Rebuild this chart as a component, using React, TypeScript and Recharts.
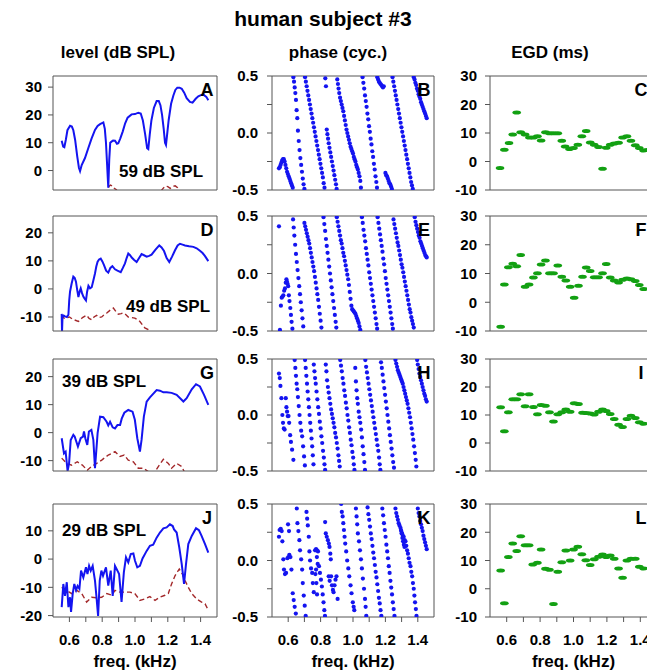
import React from "react";
import { ComposedChart, Line, Scatter, XAxis, YAxis } from "recharts";

const FONT = "'Liberation Sans', Arial, sans-serif";
const BLUE = "#1414f0";
const RED = "#a3282a";
const GREEN = "#12a012";
const AXIS = "#555";

const FREQ_TICKS = [0.6, 0.7, 0.8, 0.9, 1.0, 1.1, 1.2, 1.3, 1.4];
const FREQ_LABELS = [0.6, 0.8, 1.0, 1.2, 1.4];
const PHASE_TICKS = [-0.5, -0.25, 0, 0.25, 0.5];
const PHASE_LABELS = [-0.5, 0, 0.5];
const EGD_TICKS = [-10, 0, 10, 20, 30];

const LEVEL_TICKS = [[0, 10, 20, 30], [-10, 0, 10, 20], [-10, 0, 10, 20], [-20, -10, 0, 10]];
const LEVEL_DOMAINS = [[-7, 34], [-15, 26], [-13.7, 26.3], [-20.5, 19.5]];
const STIM = ["59 dB SPL", "49 dB SPL", "39 dB SPL", "29 dB SPL"];
const LETTERS = [["A", "B", "C"], ["D", "E", "F"], ["G", "H", "I"], ["J", "K", "L"]];

// level (dB SPL): [kHz, dB]
const LEVEL_A_BLUE = [
  [0.553, 10.7], [0.562, 8.6], [0.569, 8.4], [0.578, 11], [0.588, 14.5], [0.604, 16.1], [0.615, 15.8], [0.624, 14.5],
  [0.635, 11], [0.648, 5], [0.658, 1], [0.665, -0.2], [0.675, 2], [0.695, 4.5], [0.715, 8], [0.735, 11.5], [0.756, 14.6],
  [0.772, 16], [0.787, 16.7], [0.807, 17.3], [0.816, 15], [0.823, 10], [0.83, 2], [0.837, -6.2], [0.843, 4], [0.849, 10],
  [0.857, 10.4], [0.866, 10.8], [0.878, 10.7], [0.89, 9.6], [0.898, 9.8], [0.91, 11.5], [0.925, 14], [0.94, 17], [0.955, 19],
  [0.979, 20.2], [1.0, 20.3], [1.02, 20.8], [1.035, 20.5], [1.048, 18], [1.062, 13], [1.074, 8], [1.081, 7.7], [1.09, 13],
  [1.1, 18], [1.115, 22.5], [1.132, 25], [1.145, 25], [1.155, 23.5], [1.165, 20], [1.175, 15], [1.183, 10], [1.189, 9.2],
  [1.196, 13], [1.205, 18], [1.22, 24], [1.234, 27], [1.246, 29], [1.258, 29.8], [1.272, 29.8], [1.285, 29.4], [1.3, 28],
  [1.315, 26], [1.335, 24.7], [1.351, 24.4], [1.37, 25.8], [1.386, 26.7], [1.405, 27.2], [1.417, 27.3], [1.435, 26.5], [1.447, 25.3],
];
const LEVEL_A_RED = [
  [0.553, -14], [0.6, -15], [0.7, -12], [0.8, -9.5], [0.83, -7.5], [0.84, -5.8], [0.85, -5.2], [0.86, -5.5], [0.87, -6.3],
  [0.885, -6.8], [0.9, -8], [0.95, -10], [1.0, -12], [1.05, -11], [1.1, -10], [1.15, -8], [1.17, -6.5], [1.185, -5.6],
  [1.2, -5.8], [1.215, -6.4], [1.23, -5.7], [1.245, -5.5], [1.26, -6.2], [1.275, -7.5], [1.3, -9.5], [1.35, -11], [1.45, -13],
];
const LEVEL_D_BLUE = [
  [0.553, -8.9], [0.555, -15.5], [0.558, -10], [0.565, -9.5], [0.573, -9.8], [0.585, -10], [0.594, -9.2], [0.599, -4],
  [0.604, -0.9], [0.614, 2], [0.624, 4.4], [0.632, 4], [0.64, 2.6], [0.648, -0.5], [0.655, -2.9], [0.662, -1], [0.669, 0.2],
  [0.677, -1.5], [0.685, -2.7], [0.693, -3.5], [0.701, -4.1], [0.708, -1], [0.716, 1.1], [0.726, 0.2], [0.736, 0.6], [0.746, 3],
  [0.756, 5.5], [0.764, 8], [0.772, 9.7], [0.781, 10.5], [0.791, 10.8], [0.801, 9.8], [0.811, 8.5], [0.824, 6.5], [0.837, 5.8],
  [0.85, 7.5], [0.862, 8.1], [0.878, 7], [0.893, 6.5], [0.913, 6], [0.926, 7.5], [0.939, 9.1], [0.949, 11], [0.959, 12.6],
  [0.97, 12], [0.98, 11.2], [0.995, 10.3], [1.01, 9.6], [1.025, 11], [1.04, 12.4], [1.055, 12], [1.071, 11.5], [1.086, 11.8],
  [1.101, 12.2], [1.125, 14], [1.148, 15.5], [1.162, 14.8], [1.177, 13.5], [1.193, 11], [1.209, 9.6], [1.226, 11.5],
  [1.244, 13.8], [1.26, 15.5], [1.274, 16.1], [1.29, 15.8], [1.305, 15.5], [1.33, 15.2], [1.356, 15], [1.376, 14.5],
  [1.396, 13.6], [1.412, 12.8], [1.427, 11.7], [1.447, 9.9],
];
const LEVEL_D_RED = [
  [0.553, -9.2], [0.568, -10.5], [0.584, -10.4], [0.6, -10], [0.62, -10.8], [0.655, -11.6], [0.68, -10.2], [0.705, -9.4],
  [0.72, -10.5], [0.736, -11], [0.75, -10], [0.766, -9.4], [0.78, -10.2], [0.797, -10], [0.81, -9.3], [0.828, -8.6],
  [0.85, -7.5], [0.868, -6.8], [0.883, -8], [0.898, -9], [0.915, -8.8], [0.93, -8.6], [0.945, -9.2], [0.959, -10],
  [0.98, -10.2], [0.999, -10.4], [1.015, -11], [1.03, -11.6], [1.045, -12.8], [1.06, -13.9], [1.081, -14.5], [1.1, -16],
  [1.2, -17], [1.3, -18], [1.45, -19],
];
const LEVEL_G_BLUE = [
  [0.553, -2], [0.567, -7.4], [0.577, -6.8], [0.589, -13.7], [0.598, -11], [0.608, -2.6], [0.624, -0.8], [0.632, -1.4],
  [0.652, -5], [0.669, -2], [0.683, -1.4], [0.689, 0.4], [0.697, -2], [0.709, -4.4], [0.719, 0.4], [0.734, 1], [0.746, -2.6],
  [0.756, -12.7], [0.772, -0.2], [0.787, 5.7], [0.807, 5.5], [0.827, 3.9], [0.837, 2.6], [0.848, 3.9], [0.864, 1.9],
  [0.878, 1.5], [0.893, 2.7], [0.909, 2.7], [0.919, 5], [0.935, 7.1], [0.959, 8.1], [0.985, 7.5], [0.999, 4.6], [1.014, -2],
  [1.03, -6.8], [1.04, -2.6], [1.054, 5.7], [1.071, 11.1], [1.091, 12.6], [1.132, 15.2], [1.152, 15], [1.173, 14.4],
  [1.193, 14.4], [1.223, 14.2], [1.254, 13.5], [1.295, 11.1], [1.315, 12.3], [1.346, 15.5], [1.372, 17.3], [1.396, 16.5],
  [1.421, 13.5], [1.447, 9.9],
];
const LEVEL_G_RED = [
  [0.553, -9.1], [0.584, -11], [0.614, -11.6], [0.648, -10.4], [0.679, -11.6], [0.709, -13.4], [0.736, -12], [0.766, -11],
  [0.797, -9.8], [0.837, -8], [0.878, -6.8], [0.909, -8.5], [0.934, -8], [0.959, -9.8], [0.99, -10.4], [1.02, -12.7],
  [1.05, -12.7], [1.081, -13.9], [1.11, -15], [1.142, -12.1], [1.173, -9.5], [1.203, -11], [1.223, -12.7], [1.254, -11],
  [1.285, -12.1], [1.305, -14.5], [1.35, -16], [1.45, -17],
];
const LEVEL_J_BLUE = [
  [0.553, -17], [0.563, -8.8], [0.573, -13], [0.584, -8.2], [0.594, -17], [0.604, -13.5], [0.61, -18.7], [0.62, -12.3],
  [0.63, -8.8], [0.641, -11], [0.65, -9.5], [0.661, -10.5], [0.671, -4.1], [0.685, -6.5], [0.701, -2.9], [0.71, -5.3],
  [0.72, -2.4], [0.73, -4.1], [0.742, -2.4], [0.756, -7.6], [0.766, -14], [0.775, -20.1], [0.785, -7.6], [0.795, -4.1],
  [0.805, -5.9], [0.823, -2.9], [0.837, -9.4], [0.852, -4.1], [0.864, -13], [0.878, -2.4], [0.893, -4.1], [0.903, -5.3],
  [0.918, -15.2], [0.932, -4.7], [0.945, 0.6], [0.959, -1.2], [0.974, 1.8], [0.99, 2], [1.0, -0.6], [1.014, -2.9], [1.03, -2.4],
  [1.046, 0.2], [1.071, 2.9], [1.091, 4.7], [1.111, 5.1], [1.132, 7.6], [1.152, 9.4], [1.173, 10.9], [1.193, 11.2],
  [1.213, 12.3], [1.23, 11.7], [1.238, 10.5], [1.254, 9.4], [1.27, 4.1], [1.285, -1.8], [1.299, -8.8], [1.311, -1.8],
  [1.325, 5.3], [1.346, 8.2], [1.372, 10.9], [1.39, 10.2], [1.406, 8.2], [1.427, 5.3], [1.447, 2.3],
];
const LEVEL_J_RED = [
  [0.553, -10], [0.584, -11.1], [0.614, -12.2], [0.645, -11.1], [0.675, -12.2], [0.705, -15.2], [0.736, -13.5],
  [0.766, -13.7], [0.797, -13.5], [0.828, -12.2], [0.858, -12.8], [0.878, -11.1], [0.909, -11.7], [0.939, -11.7],
  [0.969, -11.7], [0.999, -12.2], [1.03, -14.6], [1.06, -14.1], [1.091, -13.3], [1.122, -14.6], [1.152, -13.5],
  [1.183, -12.8], [1.203, -12.2], [1.223, -8.8], [1.244, -5.9], [1.27, -3.5], [1.289, -5.3], [1.305, -7.6], [1.325, -10],
  [1.346, -12.2], [1.376, -14.1], [1.406, -15.2], [1.427, -15.8], [1.447, -18.1],
];

// phase (cycles): [kHz, cyc]
const PHASE_B = [
  [0.543, -0.31], [0.548, -0.3], [0.553, -0.28], [0.558, -0.26], [0.563, -0.24], [0.568, -0.23], [0.573, -0.23], [0.578, -0.25],
  [0.583, -0.28], [0.588, -0.31], [0.593, -0.34], [0.598, -0.36], [0.603, -0.38], [0.608, -0.4], [0.613, -0.42], [0.618, -0.44],
  [0.623, -0.46], [0.628, -0.48],
  [0.632, 0.49], [0.636, 0.45], [0.64, 0.4], [0.644, 0.35], [0.648, 0.29], [0.652, 0.2], [0.656, 0.13], [0.66, 0.02],
  [0.665, -0.07], [0.67, -0.15], [0.675, -0.22], [0.68, -0.28], [0.685, -0.34], [0.69, -0.4], [0.695, -0.45], [0.7, -0.49],
  [0.704, 0.49], [0.709, 0.45], [0.714, 0.41], [0.719, 0.37], [0.724, 0.33], [0.729, 0.29], [0.734, 0.25], [0.739, 0.21],
  [0.744, 0.17], [0.749, 0.13], [0.754, 0.09], [0.759, 0.05], [0.764, 0.01], [0.769, -0.03], [0.774, -0.07], [0.779, -0.11],
  [0.784, -0.15], [0.789, -0.19], [0.794, -0.23], [0.799, -0.27], [0.804, -0.31], [0.809, -0.35], [0.814, -0.39], [0.819, -0.44],
  [0.824, -0.48],
  [0.829, 0.48], [0.833, 0.41], [0.838, 0.03], [0.842, -0.01], [0.846, -0.05], [0.85, -0.09], [0.855, -0.13], [0.86, -0.17],
  [0.865, -0.21], [0.87, -0.25], [0.875, -0.29], [0.88, -0.33], [0.885, -0.37], [0.89, -0.41], [0.895, -0.45], [0.899, -0.49],
  [0.903, 0.47], [0.907, 0.43], [0.911, 0.39], [0.915, 0.35], [0.92, 0.31], [0.925, 0.28], [0.93, 0.25], [0.935, 0.22],
  [0.94, 0.19], [0.945, 0.15], [0.95, 0.11], [0.955, 0.07], [0.96, 0.03], [0.965, 0.0], [0.97, -0.03], [0.975, -0.06],
  [0.98, -0.09], [0.985, -0.12], [0.99, -0.14], [0.995, -0.16], [1.0, -0.18], [1.005, -0.21], [1.01, -0.23], [1.015, -0.25],
  [1.02, -0.28], [1.025, -0.3], [1.03, -0.32], [1.035, -0.35], [1.04, -0.38], [1.045, -0.42], [1.049, -0.48],
  [1.059, 0.49], [1.064, 0.44], [1.069, 0.39], [1.074, 0.33], [1.079, 0.28], [1.084, 0.23], [1.089, 0.17], [1.094, 0.12],
  [1.099, 0.06], [1.104, 0.01], [1.109, -0.05], [1.114, -0.1], [1.119, -0.16], [1.124, -0.21], [1.129, -0.27], [1.134, -0.32],
  [1.139, -0.38], [1.144, -0.43], [1.148, -0.48],
  [1.15, 0.49], [1.155, 0.47], [1.16, 0.45], [1.165, 0.44], [1.17, 0.43], [1.175, 0.42], [1.18, 0.41], [1.185, 0.4],
  [1.19, 0.41], [1.2, -0.35], [1.205, -0.37], [1.21, -0.38], [1.215, -0.4], [1.22, -0.42], [1.225, -0.44], [1.23, -0.45],
  [1.235, -0.47], [1.24, -0.49],
  [1.244, 0.49], [1.249, 0.45], [1.254, 0.41], [1.259, 0.37], [1.264, 0.33], [1.269, 0.29], [1.274, 0.25], [1.279, 0.21],
  [1.284, 0.17], [1.289, 0.13], [1.294, 0.09], [1.299, 0.05], [1.304, 0.01], [1.309, -0.03], [1.314, -0.07], [1.319, -0.11],
  [1.324, -0.15], [1.329, -0.19], [1.334, -0.23], [1.339, -0.27], [1.344, -0.31], [1.349, -0.35], [1.354, -0.39],
  [1.359, -0.43], [1.364, -0.46], [1.369, -0.49],
  [1.375, 0.49], [1.38, 0.47], [1.385, 0.44], [1.39, 0.42], [1.395, 0.39], [1.4, 0.37], [1.405, 0.34], [1.41, 0.32],
  [1.415, 0.3], [1.42, 0.27], [1.425, 0.25], [1.43, 0.23], [1.435, 0.21], [1.44, 0.19], [1.445, 0.17], [1.45, 0.15], [1.455, 0.13],
];
const PHASE_E = [
  [0.543, 0.41], [0.549, -0.49], [0.555, -0.28], [0.56, -0.21], [0.565, -0.2], [0.57, -0.19], [0.575, -0.15], [0.58, -0.13],
  [0.585, -0.08], [0.589, -0.05], [0.592, -0.07], [0.596, -0.09], [0.6, -0.11], [0.604, -0.19], [0.608, -0.24], [0.613, -0.3],
  [0.617, -0.36], [0.621, -0.42], [0.626, -0.48],
  [0.63, 0.47], [0.634, 0.4], [0.638, 0.33], [0.643, 0.25], [0.648, 0.17], [0.653, 0.1], [0.658, 0.03], [0.663, -0.04],
  [0.668, -0.11], [0.673, -0.18], [0.678, -0.25], [0.683, -0.32], [0.688, -0.39], [0.693, -0.46],
  [0.7, 0.44], [0.705, 0.41], [0.71, 0.38], [0.715, 0.35], [0.72, 0.32], [0.725, 0.29], [0.73, 0.26], [0.735, 0.22],
  [0.74, 0.18], [0.745, 0.14], [0.75, 0.1], [0.755, 0.06], [0.76, 0.02], [0.765, -0.03], [0.77, -0.08], [0.775, -0.13],
  [0.78, -0.18], [0.785, -0.23], [0.79, -0.29], [0.795, -0.35], [0.8, -0.41], [0.805, -0.47],
  [0.818, 0.49], [0.823, 0.43], [0.828, 0.37], [0.833, 0.3], [0.838, 0.24], [0.843, 0.18], [0.848, 0.12], [0.853, 0.06],
  [0.858, 0.0], [0.863, -0.06], [0.868, -0.12], [0.873, -0.18], [0.878, -0.24], [0.883, -0.3], [0.888, -0.36], [0.893, -0.42],
  [0.897, -0.47],
  [0.9, 0.49], [0.905, 0.45], [0.91, 0.41], [0.915, 0.37], [0.92, 0.33], [0.925, 0.29], [0.93, 0.26], [0.935, 0.22],
  [0.94, 0.18], [0.945, 0.15], [0.95, 0.11], [0.955, 0.07], [0.96, 0.03], [0.965, -0.01], [0.97, -0.05], [0.975, -0.1],
  [0.98, -0.16], [0.985, -0.22], [0.99, -0.28], [0.995, -0.31], [1.0, -0.32], [1.005, -0.33], [1.01, -0.34], [1.015, -0.35],
  [1.02, -0.37], [1.025, -0.39], [1.03, -0.41], [1.035, -0.43], [1.04, -0.46], [1.045, -0.49],
  [1.055, 0.49], [1.06, 0.44], [1.065, 0.38], [1.07, 0.33], [1.075, 0.28], [1.08, 0.22], [1.085, 0.17], [1.09, 0.12],
  [1.095, 0.07], [1.1, 0.01], [1.105, -0.04], [1.11, -0.09], [1.115, -0.14], [1.12, -0.19], [1.125, -0.24], [1.13, -0.29],
  [1.135, -0.34], [1.14, -0.39], [1.145, -0.44], [1.149, -0.48],
  [1.152, 0.49], [1.157, 0.44], [1.162, 0.39], [1.167, 0.34], [1.172, 0.29], [1.177, 0.24], [1.182, 0.19], [1.187, 0.13],
  [1.192, 0.08], [1.197, 0.02], [1.202, -0.04], [1.207, -0.09], [1.212, -0.14], [1.217, -0.19], [1.222, -0.24], [1.227, -0.29],
  [1.232, -0.34], [1.237, -0.39], [1.242, -0.44], [1.246, -0.48],
  [1.25, 0.47], [1.255, 0.43], [1.26, 0.39], [1.265, 0.35], [1.27, 0.31], [1.275, 0.27], [1.28, 0.24], [1.285, 0.2],
  [1.29, 0.16], [1.295, 0.12], [1.3, 0.08], [1.305, 0.05], [1.31, 0.01], [1.315, -0.03], [1.32, -0.07], [1.325, -0.11],
  [1.33, -0.15], [1.335, -0.19], [1.34, -0.23], [1.345, -0.27], [1.35, -0.31], [1.355, -0.34], [1.36, -0.38], [1.365, -0.41],
  [1.37, -0.44], [1.375, -0.47],
  [1.381, 0.49], [1.386, 0.45], [1.391, 0.42], [1.396, 0.39], [1.401, 0.36], [1.406, 0.33], [1.411, 0.31], [1.416, 0.28],
  [1.421, 0.26], [1.426, 0.24], [1.431, 0.22], [1.436, 0.2], [1.441, 0.18], [1.446, 0.16], [1.451, 0.15], [1.455, 0.14],
];
const PHASE_H = [
  [0.543, 0.37], [0.548, 0.33], [0.552, 0.26], [0.558, 0.15], [0.564, 0.0], [0.568, -0.07], [0.573, -0.12], [0.578, -0.13],
  [0.585, 0.15], [0.589, 0.07], [0.593, 0.03], [0.597, -0.01], [0.602, -0.01], [0.606, -0.07], [0.612, -0.18], [0.617, -0.24],
  [0.624, -0.31], [0.632, -0.4],
  [0.64, 0.49], [0.644, 0.42], [0.648, 0.35], [0.652, 0.28], [0.656, 0.23], [0.66, 0.16], [0.665, 0.08], [0.67, 0.0],
  [0.675, -0.07], [0.68, -0.14], [0.686, -0.19], [0.692, -0.28], [0.698, -0.37], [0.703, -0.45],
  [0.704, 0.49], [0.708, 0.42], [0.712, 0.35], [0.716, 0.28], [0.72, 0.21], [0.724, 0.14], [0.728, 0.07], [0.732, 0.0],
  [0.736, -0.07], [0.74, -0.14], [0.744, -0.21], [0.748, -0.28], [0.752, -0.36], [0.756, -0.44],
  [0.758, 0.45], [0.762, 0.39], [0.766, 0.33], [0.77, 0.28], [0.775, 0.21], [0.78, 0.14], [0.785, 0.07], [0.79, 0.01],
  [0.795, -0.06], [0.8, -0.12], [0.805, -0.19], [0.81, -0.25], [0.815, -0.32], [0.82, -0.38], [0.824, -0.44], [0.828, -0.49],
  [0.832, 0.45], [0.836, 0.39], [0.84, 0.31], [0.845, 0.25], [0.85, 0.2], [0.855, 0.15], [0.86, 0.1], [0.865, 0.05],
  [0.87, 0.01], [0.875, -0.03], [0.88, -0.07], [0.885, -0.11], [0.89, -0.16], [0.895, -0.2], [0.9, -0.25], [0.905, -0.3],
  [0.91, -0.36], [0.914, -0.41], [0.918, -0.46],
  [0.921, 0.49], [0.926, 0.44], [0.931, 0.39], [0.936, 0.33], [0.941, 0.28], [0.946, 0.22], [0.951, 0.17], [0.956, 0.11],
  [0.961, 0.06], [0.966, 0.0], [0.971, -0.05], [0.976, -0.11], [0.981, -0.16], [0.986, -0.22], [0.991, -0.27], [0.996, -0.33],
  [1.001, -0.38], [1.005, -0.44], [1.009, -0.49],
  [1.014, 0.42], [1.018, 0.3], [1.022, 0.22], [1.026, 0.15], [1.03, 0.1], [1.035, 0.03], [1.04, -0.02], [1.045, -0.07],
  [1.05, -0.13], [1.055, -0.2], [1.06, -0.28], [1.065, -0.35], [1.07, -0.42], [1.074, -0.49],
  [1.076, 0.49], [1.081, 0.43], [1.086, 0.38], [1.091, 0.33], [1.096, 0.28], [1.101, 0.23], [1.106, 0.18], [1.111, 0.13],
  [1.116, 0.08], [1.121, 0.03], [1.126, -0.02], [1.131, -0.07], [1.136, -0.12], [1.141, -0.17], [1.146, -0.22], [1.151, -0.27],
  [1.156, -0.32], [1.161, -0.38], [1.165, -0.44], [1.169, -0.49],
  [1.173, 0.47], [1.178, 0.42], [1.183, 0.36], [1.188, 0.3], [1.193, 0.24], [1.198, 0.18], [1.203, 0.12], [1.208, 0.06],
  [1.213, 0.0], [1.218, -0.06], [1.223, -0.12], [1.228, -0.18], [1.233, -0.24], [1.238, -0.3], [1.243, -0.36], [1.248, -0.42],
  [1.253, -0.47],
  [1.262, 0.49], [1.267, 0.46], [1.272, 0.43], [1.277, 0.4], [1.282, 0.38], [1.287, 0.36], [1.292, 0.34], [1.297, 0.32],
  [1.302, 0.3], [1.307, 0.28], [1.312, 0.25], [1.317, 0.22], [1.322, 0.19], [1.327, 0.16], [1.332, 0.13], [1.337, 0.1],
  [1.342, 0.06], [1.347, 0.02], [1.352, -0.02], [1.357, -0.07], [1.362, -0.12], [1.367, -0.17], [1.372, -0.22], [1.377, -0.28],
  [1.382, -0.34], [1.387, -0.4], [1.391, -0.46],
  [1.396, 0.49], [1.4, 0.45], [1.405, 0.41], [1.41, 0.37], [1.415, 0.34], [1.42, 0.31], [1.425, 0.28], [1.43, 0.25],
  [1.435, 0.22], [1.44, 0.19], [1.445, 0.17], [1.45, 0.14], [1.455, 0.12],
];
const PHASE_K = [
  [0.543, 0.21], [0.547, 0.27], [0.554, 0.28], [0.56, 0.26], [0.564, 0.17], [0.57, 0.01], [0.574, -0.08], [0.58, -0.12],
  [0.587, -0.11], [0.595, 0.02], [0.601, 0.03], [0.607, 0.05], [0.614, 0.03], [0.62, -0.08], [0.599, 0.32], [0.605, 0.26],
  [0.628, -0.29], [0.634, -0.35], [0.64, -0.41], [0.647, -0.47],
  [0.653, 0.46], [0.657, 0.33], [0.663, 0.26], [0.669, 0.18], [0.673, 0.09], [0.68, 0.01], [0.686, -0.08], [0.69, -0.2],
  [0.696, -0.31], [0.702, -0.4], [0.708, -0.49],
  [0.713, 0.43], [0.717, 0.37], [0.721, 0.31], [0.727, 0.21], [0.731, 0.08], [0.735, 0.0], [0.741, -0.07], [0.748, -0.11],
  [0.752, -0.2], [0.758, -0.28],
  [0.766, 0.09], [0.772, 0.1], [0.778, 0.09], [0.784, 0.08], [0.777, 0.03], [0.782, -0.03], [0.772, -0.08], [0.768, -0.12],
  [0.774, -0.2], [0.778, -0.3],
  [0.79, -0.05], [0.796, -0.11], [0.802, -0.17], [0.808, -0.23], [0.813, -0.3], [0.818, -0.37], [0.823, -0.44], [0.827, -0.49],
  [0.828, 0.34], [0.832, 0.24], [0.838, 0.21], [0.845, 0.18], [0.851, 0.15], [0.855, 0.12], [0.86, 0.06], [0.863, 0.01],
  [0.85, -0.14], [0.856, -0.18], [0.865, -0.14], [0.87, -0.22], [0.876, -0.26], [0.88, -0.28], [0.886, -0.22], [0.892, -0.17],
  [0.898, -0.14], [0.905, -0.34],
  [0.927, 0.5], [0.931, 0.43], [0.936, 0.39], [0.94, 0.33], [0.944, 0.27], [0.948, 0.21], [0.952, 0.15], [0.958, 0.08],
  [0.964, 0.0], [0.971, -0.07], [0.977, -0.14], [0.985, -0.22], [0.991, -0.29], [0.999, -0.37], [1.004, -0.41], [1.008, -0.44],
  [1.018, 0.46], [1.022, 0.39], [1.026, 0.32], [1.03, 0.24], [1.037, 0.17], [1.043, 0.09], [1.049, 0.01], [1.055, -0.07],
  [1.061, -0.16], [1.068, -0.25], [1.074, -0.34], [1.078, -0.41], [1.082, -0.49],
  [1.09, 0.47], [1.095, 0.41], [1.1, 0.36], [1.105, 0.3], [1.11, 0.24], [1.115, 0.19], [1.12, 0.13], [1.125, 0.07],
  [1.13, 0.02], [1.135, -0.04], [1.14, -0.1], [1.145, -0.15], [1.15, -0.21], [1.155, -0.27], [1.16, -0.33], [1.165, -0.38],
  [1.17, -0.44], [1.175, -0.49],
  [1.181, 0.46], [1.186, 0.4], [1.191, 0.33], [1.196, 0.27], [1.201, 0.21], [1.206, 0.14], [1.211, 0.08], [1.216, 0.02],
  [1.221, -0.05], [1.226, -0.11], [1.231, -0.18], [1.236, -0.24], [1.241, -0.3], [1.246, -0.37], [1.251, -0.43], [1.256, -0.49],
  [1.262, 0.46], [1.267, 0.42], [1.272, 0.39], [1.277, 0.36], [1.282, 0.33], [1.287, 0.31], [1.293, 0.29], [1.298, 0.26],
  [1.303, 0.24], [1.308, 0.22], [1.313, 0.21], [1.319, 0.18], [1.324, 0.17], [1.329, 0.13], [1.334, 0.09], [1.339, 0.06],
  [1.344, 0.02], [1.349, -0.02], [1.355, -0.05], [1.36, -0.1], [1.365, -0.14], [1.37, -0.2], [1.375, -0.25], [1.379, -0.31],
  [1.383, -0.37], [1.388, -0.43], [1.392, -0.49],
  [1.296, 0.27], [1.3, 0.24], [1.305, 0.2], [1.309, 0.17], [1.314, 0.14], [1.318, 0.12],
  [1.4, 0.46], [1.405, 0.42], [1.41, 0.39], [1.415, 0.35], [1.42, 0.32], [1.425, 0.29], [1.43, 0.26], [1.435, 0.22],
  [1.44, 0.19], [1.445, 0.16], [1.45, 0.13], [1.455, 0.1],
];

// EGD (ms): [kHz, ms]
const EGD_C = [
  [0.56, -2.3], [0.586, 4.1], [0.614, 6.5], [0.636, 9.5], [0.66, 17.2], [0.684, 10.3], [0.71, 9.5], [0.736, 8.4], [0.76, 8.4],
  [0.784, 8.9], [0.806, 7.4], [0.832, 10.3], [0.856, 9.9], [0.88, 9.9], [0.906, 9.9], [0.93, 7.3], [0.95, 5.3], [0.976, 4.4],
  [1.0, 4.7], [1.026, 5.9], [1.05, 8.9], [1.076, 10.7], [1.1, 6.7], [1.124, 5.9], [1.15, 5.1], [1.174, -2.5], [1.196, 4.8],
  [1.22, 5.9], [1.244, 6.3], [1.27, 6.6], [1.294, 8.4], [1.32, 8.9], [1.344, 7.3], [1.37, 5.7], [1.394, 4.7], [1.42, 3.9],
  [1.444, 4],
];
const EGD_F = [
  [0.564, -8.5], [0.586, 6.2], [0.61, 12.2], [0.636, 13.4], [0.66, 12.5], [0.684, 16.4], [0.71, 5.4], [0.734, 6.2], [0.76, 8.6],
  [0.784, 10.1], [0.806, 13.1], [0.832, 14.5], [0.856, 10.1], [0.88, 10.1], [0.906, 12.8], [0.93, 8.9], [0.954, 7.6],
  [0.98, 5.4], [1.004, 1.6], [1.03, 5.7], [1.054, 8.9], [1.076, 12.1], [1.1, 10.9], [1.124, 8.7], [1.15, 8.7], [1.174, 10.1],
  [1.196, 13.3], [1.22, 8.6], [1.244, 7.6], [1.27, 6.9], [1.294, 7.8], [1.32, 8.3], [1.344, 8], [1.37, 7.4], [1.394, 6],
  [1.42, 4.6],
];
const EGD_I = [
  [0.564, 12.8], [0.586, 4.2], [0.61, 11], [0.636, 15.6], [0.66, 15.6], [0.684, 17.4], [0.71, 13.1], [0.734, 17.4],
  [0.76, 12.9], [0.784, 10.3], [0.806, 13.6], [0.832, 13.3], [0.856, 11], [0.88, 7.7], [0.906, 10.3], [0.93, 11], [0.954, 12],
  [0.98, 11.2], [1.004, 14.2], [1.03, 13.9], [1.054, 10.8], [1.076, 10.7], [1.1, 10.5], [1.124, 10.2], [1.15, 11.2],
  [1.174, 12], [1.196, 11.4], [1.22, 10.4], [1.244, 8.6], [1.27, 6.5], [1.294, 5.7], [1.32, 8.6], [1.344, 9.7], [1.37, 8.9],
  [1.394, 7.4], [1.42, 6.9],
];
const EGD_L = [
  [0.564, 6.5], [0.586, -5.1], [0.61, 11.2], [0.636, 16], [0.66, 13.4], [0.684, 18.6], [0.71, 15.4], [0.734, 15.4],
  [0.756, 8.6], [0.784, 9.2], [0.806, 13.9], [0.832, 7.1], [0.856, 6.7], [0.88, -5.4], [0.906, 6], [0.93, 9.4], [0.954, 13.5],
  [0.98, 10], [1.0, 13.9], [1.026, 14.9], [1.05, 12.2], [1.074, 10.1], [1.1, 8.4], [1.124, 10.4], [1.15, 11.3], [1.174, 12.1],
  [1.196, 11.2], [1.22, 11.8], [1.244, 10.6], [1.27, 7.2], [1.294, 3.9], [1.32, 10], [1.344, 10.6], [1.37, 10.6], [1.394, 7.8],
  [1.42, 7.2],
];

const LEVEL_BLUE = [LEVEL_A_BLUE, LEVEL_D_BLUE, LEVEL_G_BLUE, LEVEL_J_BLUE];
const LEVEL_RED = [LEVEL_A_RED, LEVEL_D_RED, LEVEL_G_RED, LEVEL_J_RED];
const PHASE = [PHASE_B, PHASE_E, PHASE_H, PHASE_K];
const EGD = [EGD_C, EGD_F, EGD_I, EGD_L];

const COLS = [
  { x: 53, w: 164, gap: 6, letterX: 207 },
  { x: 272, w: 162, gap: 9, letterX: 424 },
  { x: 490, w: 167, gap: 8, letterX: 641 },
];
const ROWS = [{ y: 76, h: 114 }, { y: 216, h: 115 }, { y: 359, h: 112 }, { y: 504, h: 113 }];

const TICK = { fill: "#000", fontSize: 15, fontWeight: 700, fontFamily: FONT };

const pts = (a: number[][]) => a.map(([f, v]) => ({ f, v }));
const near = (list: number[], v: number) => list.some((t) => Math.abs(t - v) < 1e-6);

const Dot = (props: any) => <circle cx={props.cx} cy={props.cy} r={2.1} fill={BLUE} />;
const Dash = (props: any) => <ellipse cx={props.cx} cy={props.cy} rx={4.3} ry={2} fill={GREEN} />;

function Panel({ col, row, domain, ticks, fmt, children }: any) {
  const c = COLS[col];
  const r = ROWS[row];
  const last = row === 3;
  const padL = 50, padR = 12, padT = 10, padB = last ? 40 : 10;
  return (
    <div style={{ position: "absolute", left: c.x - padL, top: r.y - padT }}>
      <ComposedChart width={padL + c.w + padR} height={padT + r.h + padB} margin={{ top: 0, right: 0, bottom: 0, left: 0 }}>
        <XAxis xAxisId="b" dataKey="f" type="number" domain={[0.5, 1.5]} allowDataOverflow ticks={FREQ_TICKS}
          interval={0} height={padB} tickSize={5} tickMargin={12} stroke={AXIS}
          tick={last ? TICK : false} tickFormatter={(v: number) => (near(FREQ_LABELS, v) ? v.toFixed(1) : "")} />
        <XAxis xAxisId="t" orientation="top" type="number" domain={[0.5, 1.5]} allowDataOverflow ticks={FREQ_TICKS}
          interval={0} height={padT} tickSize={5} stroke={AXIS} tick={false} />
        <YAxis yAxisId="l" dataKey="v" type="number" domain={domain} allowDataOverflow ticks={ticks} interval={0}
          width={padL} tickSize={5} tickMargin={c.gap} stroke={AXIS} tick={TICK} tickFormatter={fmt} />
        <YAxis yAxisId="r" orientation="right" type="number" domain={domain} allowDataOverflow ticks={ticks}
          interval={0} width={padR} tickSize={5} stroke={AXIS} tick={false} />
        {children}
      </ComposedChart>
    </div>
  );
}

export default function App() {
  const texts: any[] = [];
  ROWS.forEach((r, ri) => {
    COLS.forEach((c, ci) => {
      texts.push({ x: c.letterX, y: r.y + 14, s: LETTERS[ri][ci], size: 18 });
    });
  });
  const stimPos = [[161, 171], [168, 306], [104, 381], [104, 530]];
  STIM.forEach((s, i) => texts.push({ x: stimPos[i][0], y: stimPos[i][1], s, size: 17 }));
  COLS.forEach((c) => texts.push({ x: c.x + c.w / 2, y: 661, s: "freq. (kHz)", size: 17 }));
  texts.push({ x: 323, y: 18, s: "human subject #3", size: 21 });
  texts.push({ x: 118, y: 52, s: "level (dB SPL)", size: 17 });
  texts.push({ x: 338, y: 52, s: "phase (cyc.)", size: 17 });
  texts.push({ x: 550, y: 52, s: "EGD (ms)", size: 17 });

  return (
    <div style={{ position: "fixed", left: 0, top: 0, width: 647, height: 671, overflow: "hidden", background: "#fff" }}>
      {ROWS.map((_, ri) => (
        <React.Fragment key={ri}>
          <Panel col={0} row={ri} domain={LEVEL_DOMAINS[ri]} ticks={LEVEL_TICKS[ri]} fmt={(v: number) => String(v)}>
            <Line xAxisId="b" yAxisId="l" data={pts(LEVEL_RED[ri])} dataKey="v" stroke={RED} strokeWidth={1.4}
              strokeDasharray="5 3" dot={false} isAnimationActive={false} />
            <Line xAxisId="b" yAxisId="l" data={pts(LEVEL_BLUE[ri])} dataKey="v" stroke={BLUE} strokeWidth={2}
              dot={false} isAnimationActive={false} />
          </Panel>
          <Panel col={1} row={ri} domain={[-0.5, 0.5]} ticks={PHASE_TICKS}
            fmt={(v: number) => (near(PHASE_LABELS, v) ? v.toFixed(1) : "")}>
            <Scatter xAxisId="b" yAxisId="l" data={pts(PHASE[ri])} dataKey="v" shape={Dot} isAnimationActive={false} />
          </Panel>
          <Panel col={2} row={ri} domain={[-10, 30]} ticks={EGD_TICKS} fmt={(v: number) => String(v)}>
            <Scatter xAxisId="b" yAxisId="l" data={pts(EGD[ri])} dataKey="v" shape={Dash} isAnimationActive={false} />
          </Panel>
        </React.Fragment>
      ))}
      <svg width={647} height={671} style={{ position: "absolute", left: 0, top: 0, pointerEvents: "none" }}>
        {texts.map((t, i) => (
          <text key={i} x={t.x} y={t.y} textAnchor="middle" dominantBaseline="central" fontFamily={FONT}
            fontWeight={700} fontSize={t.size} fill="#000">
            {t.s}
          </text>
        ))}
      </svg>
    </div>
  );
}
